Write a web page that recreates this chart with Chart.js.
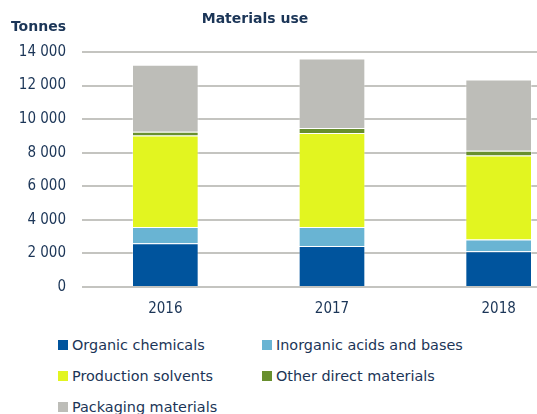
<!DOCTYPE html>
<html>
<head>
<meta charset="utf-8">
<script src="https://cdn.jsdelivr.net/npm/chart.js@4.4.0/dist/chart.umd.min.js"></script>
<style>
  html, body { margin: 0; padding: 0; background: #fff; overflow: hidden; }
  #wrap { position: relative; width: 537px; height: 414px; overflow: hidden; }
  #c { position: absolute; left: 0; top: 0; }
  .leg { position: absolute; font: 14.4px "DejaVu Sans", sans-serif; color: #1b3557; white-space: nowrap; }
  .leg i { display: inline-block; width: 10px; height: 10px; margin-right: 4px; vertical-align: 0px; }
</style>
</head>
<body>
<div id="wrap">
  <canvas id="c" width="600" height="323"></canvas>
  <div id="legend"></div>
</div>
<script>
const years = ['2016', '2017', '2018'];
const organic = [2610, 2450, 2130];
const inorganic = [960, 1120, 700];
const solvents = [5460, 5600, 5000];
const otherDirect = [220, 300, 280];
const packaging = [3990, 4140, 4245];
const yTicks = [0, 2000, 4000, 6000, 8000, 10000, 12000, 14000];

const TXT = '#1b3557';
const FONT = '"DejaVu Sans", sans-serif';
const TICKFONT = '"DejaVu Sans Condensed", "DejaVu Sans", sans-serif';

const series = [
  { label: 'Organic chemicals', data: organic, color: '#00549d' },
  { label: 'Inorganic acids and bases', data: inorganic, color: '#69b4d3' },
  { label: 'Production solvents', data: solvents, color: '#e2f520' },
  { label: 'Other direct materials', data: otherDirect, color: '#688f2e' },
  { label: 'Packaging materials', data: packaging, color: '#bdbdb8' },
];

const fmt = v => String(v).replace(/\B(?=(\d{3})+(?!\d))/g, ' ');

// axis caption + chart title drawn on canvas
const captions = {
  id: 'captions',
  afterDraw(chart) {
    const { ctx } = chart;
    ctx.save();
    ctx.fillStyle = TXT;
    ctx.font = 'bold 14px ' + FONT;
    ctx.textBaseline = 'middle';
    ctx.textAlign = 'right';
    ctx.fillText('Tonnes', 66, 27);
    ctx.textAlign = 'center';
    ctx.fillText('Materials use', 255, 19);
    ctx.restore();
  },
};

new Chart(document.getElementById('c'), {
  type: 'bar',
  data: {
    labels: years,
    datasets: series.map(s => ({
      label: s.label, data: s.data, backgroundColor: s.color,
      borderColor: 'rgba(255,255,255,0.35)', borderWidth: 1,
      barPercentage: 0.4, categoryPercentage: 1,
    })),
  },
  options: {
    responsive: false, animation: false,
    layout: { padding: { top: 52, left: 0, right: 18, bottom: 0 } },
    plugins: { legend: { display: false }, tooltip: { enabled: false } },
    scales: {
      x: {
        stacked: true,
        grid: { display: false },
        border: { display: false },
        ticks: { color: TXT, font: { family: TICKFONT, size: 15 }, padding: 5 },
      },
      y: {
        stacked: true, min: 0, max: 14000,
        afterBuildTicks: ax => { ax.ticks = yTicks.map(v => ({ value: v })); },
        afterFit: ax => { ax.width = 82; },
        grid: { color: '#c4c4c0', lineWidth: 2, drawTicks: false },
        border: { display: false },
        ticks: { color: TXT, font: { family: TICKFONT, size: 15 }, padding: 16, callback: v => fmt(v) },
      },
    },
  },
  plugins: [captions],
});

// two-column legend below the chart
const legPos = [[58, 337], [262, 337], [58, 368], [262, 368], [58, 399]];
const legend = document.getElementById('legend');
series.forEach((s, i) => {
  const d = document.createElement('div');
  d.className = 'leg';
  d.style.left = legPos[i][0] + 'px';
  d.style.top = legPos[i][1] + 'px';
  d.innerHTML = '<i style="background:' + s.color + '"></i>' + s.label;
  legend.appendChild(d);
});
</script>
</body>
</html>
